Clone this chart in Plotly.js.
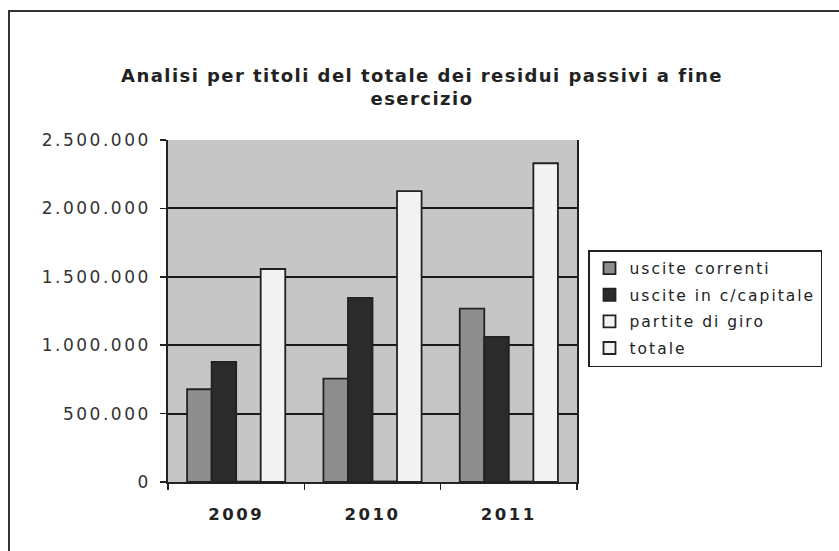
<!DOCTYPE html>
<html>
<head>
<meta charset="utf-8">
<script src="https://cdn.plot.ly/plotly-3.0.1.min.js"></script>
<style>
html,body{margin:0;padding:0;background:#fff;}
#chart{width:839px;height:551px;position:absolute;left:0;top:0;}
#frame{position:absolute;left:8px;top:10px;width:900px;height:600px;border-left:2px solid #333;border-top:2px solid #333;pointer-events:none;}
.ytick text{letter-spacing:2.5px;}
.legendtext{letter-spacing:2px;}
.xtick text{letter-spacing:2.5px;}
.gtitle{letter-spacing:1.45px;}
</style>
</head>
<body>
<div id="chart"></div>
<div id="frame"></div>
<script>
const years = ['2009', '2010', '2011'];
const seriesNames = ['uscite correnti', 'uscite in c/capitale', 'partite di giro', 'totale'];
const usciteCorrenti = [678000, 756000, 1268000];
const usciteCapitale = [878000, 1346000, 1061000];
const partiteGiro = [3000, 4000, 3000];
const totale = [1557000, 2127000, 2330000];
const gridTicks = [500000, 1000000, 1500000, 2000000];

const seriesValues = [usciteCorrenti, usciteCapitale, partiteGiro, totale];
const seriesColors = ['#8e8e8e', '#2b2b2b', '#f3f3f3', '#f3f3f3'];

const traces = seriesNames.map((name, i) => ({
  type: 'bar',
  name: name,
  x: years,
  y: seriesValues[i],
  legendgroup: 'g' + i,
  marker: {color: seriesColors[i], line: {color: '#222', width: 1.8}},
  hoverinfo: 'x+y+name'
}));

// overlay axis carrying only the grid lines (no line at the top)
traces.push({
  type: 'scatter', x: years, y: [null, null, null], yaxis: 'y2',
  showlegend: false, hoverinfo: 'skip'
});

const layout = {
  width: 839, height: 551,
  margin: {l: 168, r: 262, t: 140, b: 69, autoexpand: false},
  paper_bgcolor: '#ffffff',
  plot_bgcolor: '#c6c6c6',
  separators: ',.',
  font: {family: 'DejaVu Sans, Verdana, sans-serif', color: '#333', size: 15},
  title: {
    text: 'Analisi per titoli del totale dei residui passivi a fine<br>esercizio',
    font: {family: 'DejaVu Sans, Verdana, sans-serif', size: 18, color: '#222', weight: 'bold'},
    xref: 'container', x: 0.503, xanchor: 'center',
    yref: 'container', y: 1 - 82/551, yanchor: 'top'
  },
  barmode: 'group',
  bargap: 0.28,
  bargroupgap: 0,
  xaxis: {
    type: 'category',
    showline: true, linecolor: '#222', linewidth: 1.8,
    ticks: 'outside', tickson: 'boundaries', ticklen: 6, tickwidth: 1.5, tickcolor: '#222',
    ticklabelstandoff: 16,
    tickfont: {size: 16.5, color: '#222', weight: 'bold'},
    showgrid: false, zeroline: false, fixedrange: true
  },
  yaxis: {
    range: [0, 2500000], dtick: 500000, tickformat: ',d',
    showline: true, mirror: true, linecolor: '#222', linewidth: 1.8,
    ticks: 'outside', ticklen: 6, tickwidth: 1.5, tickcolor: '#222',
    ticklabelstandoff: 6,
    tickfont: {size: 17, color: '#333'},
    showgrid: false, zeroline: false, fixedrange: true
  },
  yaxis2: {
    overlaying: 'y', range: [0, 2500000], tickvals: gridTicks,
    showticklabels: false, ticks: '', showline: false,
    showgrid: true, gridcolor: '#1a1a1a', gridwidth: 2,
    zeroline: false, fixedrange: true
  },
  showlegend: true,
  legend: {
    x: (588 - 168) / 409, xanchor: 'left',
    y: (482 - 250) / 342, yanchor: 'top',
    bgcolor: '#ffffff', bordercolor: '#222', borderwidth: 1.5,
    font: {size: 15.5, color: '#222'},
    entrywidth: 195, entrywidthmode: 'pixels',
    traceorder: 'grouped', tracegroupgap: 3.5
  }
};

Plotly.newPlot('chart', traces, layout, {displayModeBar: false, staticPlot: true});
</script>
</body>
</html>
